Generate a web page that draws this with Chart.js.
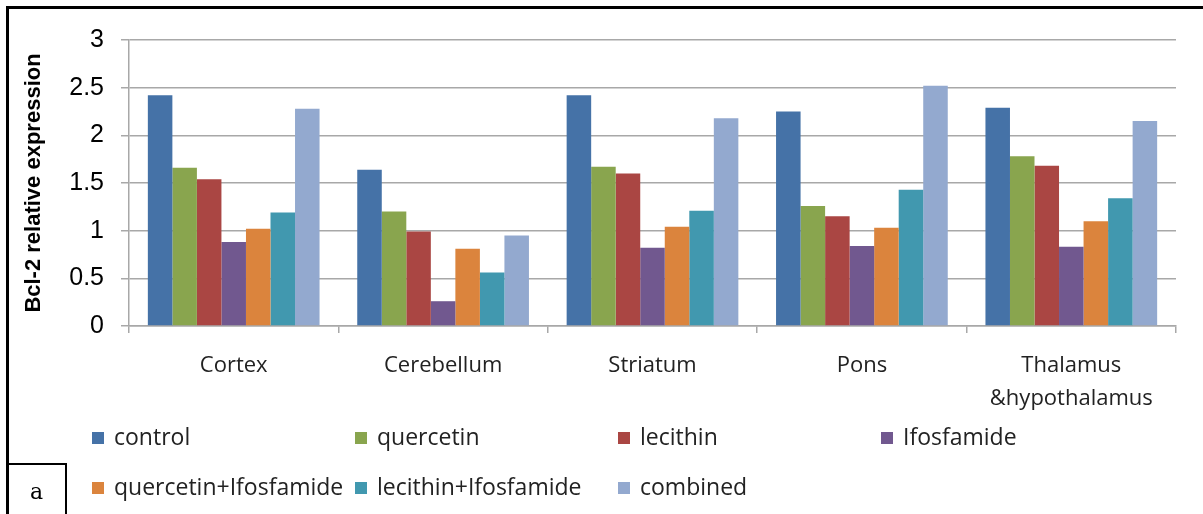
<!DOCTYPE html>
<html>
<head>
<meta charset="utf-8">
<script src="https://cdn.jsdelivr.net/npm/chart.js@4/dist/chart.umd.min.js"></script>
<style>
  html, body { margin: 0; padding: 0; background: #fff; }
  #wrap { position: relative; width: 1203px; height: 514px; overflow: hidden; }
  #frame { position: absolute; left: 6px; top: 6px; width: 1300px; height: 600px; border: 3px solid #000; }
  #chart { position: absolute; left: 0; top: 0; }
  #tag { position: absolute; left: 6px; top: 463px; width: 57px; height: 60px; border: 2px solid #000;
         font-family: "DejaVu Serif", "Liberation Serif", serif; font-size: 22px; }
  #tag span { position: absolute; left: 22px; top: 14px; }
  .lg { position: absolute; font-family: "Open Sans", sans-serif; font-size: 23px; color: #222; white-space: nowrap; line-height: 26px; }
  .lg i { display: inline-block; width: 12px; height: 12px; margin-right: 10px; vertical-align: 1px; }
</style>
</head>
<body>
<div id="wrap">
  <div id="frame"></div>
  <canvas id="chart" width="1203" height="514"></canvas>
  <div id="legend"></div>
  <div id="tag"><span>a</span></div>
</div>
<script>
// data
const regions = ['Cortex', 'Cerebellum', 'Striatum', 'Pons', ['Thalamus', '&hypothalamus']];
const groups = ['control', 'quercetin', 'lecithin', 'Ifosfamide', 'quercetin+Ifosfamide', 'lecithin+Ifosfamide', 'combined'];
const colors = ['#4572A7', '#89A54E', '#AA4643', '#71588F', '#DB843D', '#4198AF', '#93A9CF'];

const control = [2.42, 1.64, 2.42, 2.25, 2.29];
const quercetin = [1.66, 1.20, 1.67, 1.26, 1.78];
const lecithin = [1.54, 0.99, 1.60, 1.15, 1.68];
const ifosfamide = [0.88, 0.26, 0.82, 0.84, 0.83];
const quercetinIfos = [1.02, 0.81, 1.04, 1.03, 1.10];
const lecithinIfos = [1.19, 0.56, 1.21, 1.43, 1.34];
const combined = [2.28, 0.95, 2.18, 2.52, 2.15];

const yTicks = [0, 0.5, 1, 1.5, 2, 2.5, 3];

const seriesValues = [control, quercetin, lecithin, ifosfamide, quercetinIfos, lecithinIfos, combined];

const datasets = groups.map((name, i) => ({
	label: name,
	data: seriesValues[i],
	backgroundColor: colors[i],
	borderWidth: 0,
	categoryPercentage: 0.82,
	barPercentage: 1
}));

const gridGray = '#a8a8a8';

new Chart(document.querySelector('#chart'), {
	type: 'bar',
	data: { labels: regions, datasets: datasets },
	options: {
		responsive: false,
		animation: false,
		layout: { padding: { top: 40, right: 27, left: 0, bottom: 0 } },
		plugins: {
			legend: { display: false },
			tooltip: { enabled: false }
		},
		scales: {
			x: {
				grid: { offset: true, drawOnChartArea: false, color: gridGray, lineWidth: 1.5, tickLength: 7 },
				border: { color: gridGray, width: 1.5 },
				ticks: {
					color: '#222',
					padding: 16,
					font: { family: 'Open Sans', size: 22, lineHeight: 1.5 }
				},
				afterFit: (scale) => { scale.height = 188; }
			},
			y: {
				min: 0,
				max: 3,
				afterBuildTicks: (scale) => { scale.ticks = yTicks.map(v => ({ value: v })); },
				grid: { color: gridGray, lineWidth: 1.5, tickLength: 8 },
				border: { color: gridGray, width: 1.5 },
				ticks: {
					color: '#000',
					padding: 17,
					font: { family: 'Liberation Sans', size: 25 },
					callback: (v) => String(v)
				},
				title: {
					display: true,
					text: 'Bcl-2 relative expression',
					color: '#000',
					padding: { top: 21, bottom: 0 },
					font: { family: 'Liberation Sans', size: 22, weight: 'bold' }
				},
				afterFit: (scale) => { scale.width = 129; }
			}
		}
	}
});

// legend in a fixed grid like the original
const legendBox = document.querySelector('#legend');
groups.forEach((name, i) => {
	let col = i % 4;
	let row = Math.floor(i / 4);
	if (row == 1) col = i - 4;
	let item = document.createElement('div');
	item.className = 'lg';
	item.style.left = (92 + col * 263) + 'px';
	item.style.top = (423 + row * 50) + 'px';
	item.innerHTML = `<i style="background:${colors[i]}"></i>${name}`;
	legendBox.appendChild(item);
});
</script>
</body>
</html>
